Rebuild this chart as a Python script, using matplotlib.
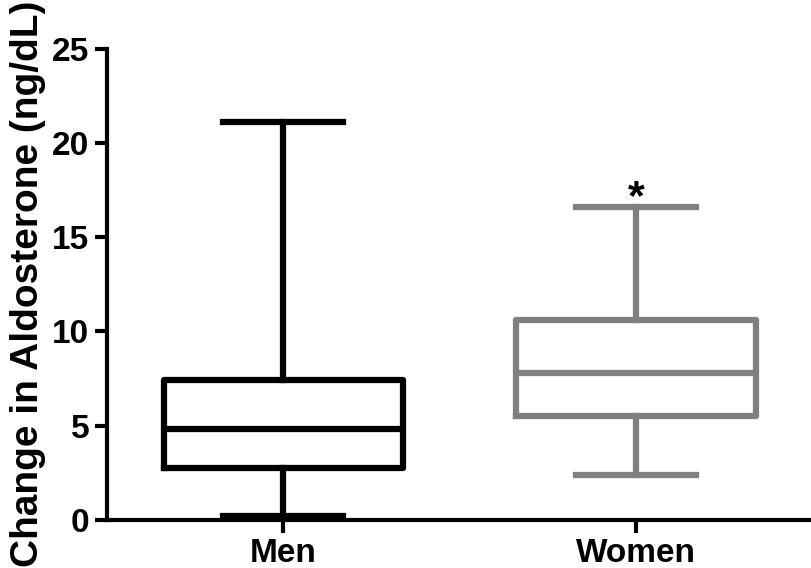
import matplotlib.pyplot as plt

plt.rcParams['font.family'] = ['Liberation Sans', 'DejaVu Sans']
plt.rcParams['font.weight'] = 'bold'

groups = ['Men', 'Women']
whislo = [0.2, 2.4]
q1 = [2.75, 5.5]
med = [4.8, 7.8]
q3 = [7.4, 10.6]
whishi = [21.1, 16.6]
colors = ['black', '#808080']

stats = []
for i in range(len(groups)):
    stats.append(dict(label=groups[i], whislo=whislo[i], q1=q1[i], med=med[i],
                      q3=q3[i], whishi=whishi[i], fliers=[]))

fig = plt.figure(figsize=(8.12, 5.68), dpi=100)
ax = fig.add_axes([0.132, 0.085, 0.868, 0.829])

lw = 4.5
for i in range(len(groups)):
    c = colors[i]
    ax.bxp([stats[i]], positions=[i + 1], widths=0.68, showfliers=False,
           boxprops=dict(color=c, linewidth=lw, solid_joinstyle='round'),
           medianprops=dict(color=c, linewidth=lw),
           whiskerprops=dict(color=c, linewidth=lw),
           capprops=dict(color=c, linewidth=lw))

# significance marker above Women
ax.text(2, 16.5, '*', ha='center', va='baseline', fontsize=31,
        fontweight='bold')

ax.set_xlim(0.5, 2.5)
ax.set_ylim(0, 25)
ax.set_yticks([0, 5, 10, 15, 20, 25])
ax.set_xticks([1, 2])
ax.set_xticklabels(groups)
ax.spines['top'].set_visible(False)
ax.spines['right'].set_visible(False)
ax.spines['left'].set_linewidth(3)
ax.spines['bottom'].set_linewidth(3)
ax.tick_params(width=3, length=9, labelsize=24, pad=4)
ax.set_ylabel('Change in Aldosterone (ng/dL)', fontsize=28, fontweight='bold',
              labelpad=4)

fig.savefig('out.png', dpi=100)
